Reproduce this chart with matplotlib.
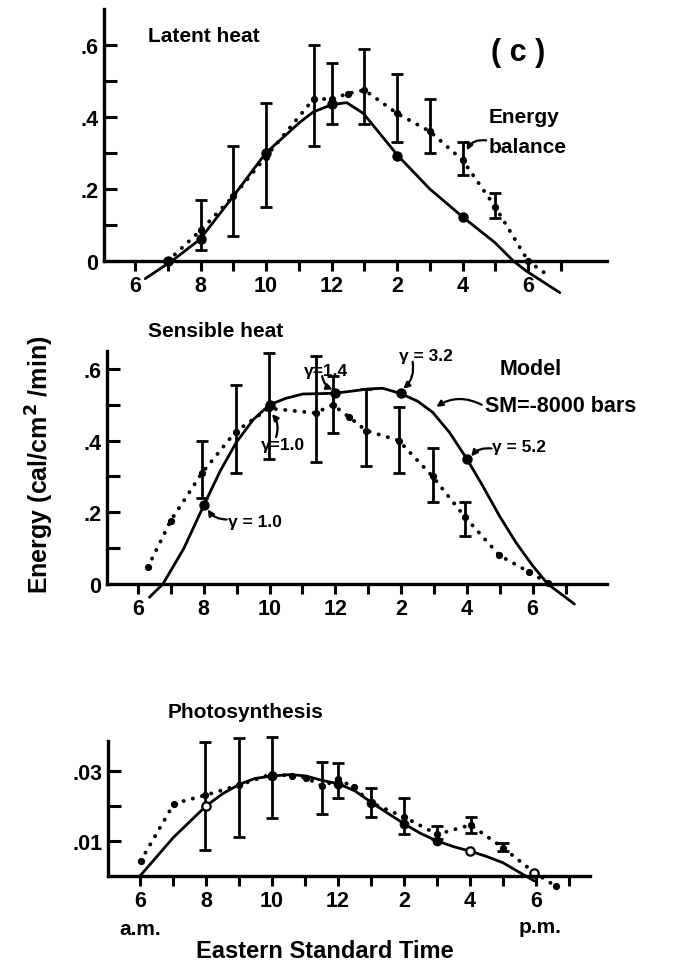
import matplotlib
matplotlib.use('Agg')
import matplotlib.pyplot as plt
import numpy as np

plt.rcParams['font.family'] = ['Liberation Sans', 'DejaVu Sans']
plt.rcParams['font.weight'] = 'bold'

# ---------------- data ----------------
tick_hours = list(range(6, 20))
label_hours = [6, 8, 10, 12, 14, 16, 18]
label_text = ['6', '8', '10', '12', '2', '4', '6']

# Latent heat
lat_model_x = [6.31, 7.12, 7.98, 9.0, 9.99, 11.04, 11.44, 12.0, 12.46, 12.97, 14.02, 15.0, 16.02, 16.99, 17.55, 17.95, 18.97]
lat_model_y = [-0.049, 0.0, 0.06, 0.18, 0.30, 0.386, 0.414, 0.434, 0.44, 0.41, 0.293, 0.20, 0.121, 0.051, 0.0, -0.028, -0.088]
lat_model_mx = [7.0, 8.0, 10.0, 12.0, 14.0, 16.0]
lat_model_my = [0.0, 0.06, 0.30, 0.435, 0.293, 0.121]
lat_obs_x = [7.0, 8.0, 9.0, 10.0, 11.45, 12.0, 12.5, 13.0, 14.0, 15.0, 16.0, 17.0, 18.0]
lat_obs_y = [0.0, 0.085, 0.18, 0.29, 0.45, 0.45, 0.465, 0.475, 0.41, 0.36, 0.28, 0.15, 0.0]
lat_tail_x = [18.0, 18.7]
lat_tail_y = [0.0, -0.046]
lat_err_x = [8.0, 9.0, 10.0, 11.45, 12.0, 13.0, 14.0, 15.0, 16.0, 17.0]
lat_err_lo = [0.03, 0.07, 0.15, 0.32, 0.38, 0.38, 0.33, 0.30, 0.24, 0.12]
lat_err_hi = [0.17, 0.32, 0.44, 0.60, 0.55, 0.59, 0.52, 0.45, 0.33, 0.19]

# Sensible heat
sen_model_x = [6.35, 6.76, 7.4, 8.0, 8.5, 8.99, 9.5, 10.0, 10.5, 11.01, 11.97, 12.5, 12.99, 13.44, 13.97, 14.5, 14.96, 15.47, 16.0, 16.48, 16.99, 17.49, 18.0, 18.46, 19.27]
sen_model_y = [-0.037, 0.0, 0.10, 0.219, 0.315, 0.395, 0.458, 0.50, 0.518, 0.53, 0.532, 0.538, 0.544, 0.546, 0.532, 0.51, 0.479, 0.423, 0.349, 0.274, 0.19, 0.116, 0.051, 0.0, -0.056]
sen_model_mx = [8.0, 10.0, 12.0, 14.0, 16.0]
sen_model_my = [0.219, 0.50, 0.532, 0.532, 0.349]
sen_obs_x = [6.3, 7.0, 7.95, 8.97, 9.98, 11.4, 11.92, 12.43, 12.94, 13.93, 14.96, 15.95, 16.99, 17.9, 18.46]
sen_obs_y = [0.047, 0.177, 0.31, 0.425, 0.49, 0.477, 0.50, 0.465, 0.428, 0.40, 0.30, 0.186, 0.08, 0.033, 0.003]
sen_err_x = [7.95, 8.97, 9.98, 11.4, 11.92, 12.94, 13.93, 14.96, 15.95]
sen_err_lo = [0.24, 0.31, 0.35, 0.34, 0.42, 0.33, 0.31, 0.23, 0.135]
sen_err_hi = [0.40, 0.555, 0.645, 0.635, 0.58, 0.545, 0.495, 0.38, 0.23]

# Photosynthesis
pho_model_x = [6.0, 7.01, 8.0, 8.5, 9.01, 9.49, 10.02, 10.55, 11.03, 11.53, 12.01, 12.52, 13.02, 13.5, 14.03, 14.5, 15.01, 15.5, 16.01, 16.5, 17.0, 17.6, 17.95]
pho_model_y = [0.0, 0.011, 0.020, 0.0235, 0.0262, 0.0279, 0.0286, 0.029, 0.0286, 0.0273, 0.0264, 0.0243, 0.021, 0.018, 0.0148, 0.0122, 0.010, 0.0084, 0.0071, 0.0056, 0.0038, 0.0005, -0.0014]
pho_model_mx = [10.0, 12.0, 13.0, 14.0, 15.0]
pho_model_my = [0.0286, 0.0264, 0.021, 0.0148, 0.010]
pho_open_x = [8.0, 16.0, 17.95]
pho_open_y = [0.020, 0.0071, 0.001]
pho_obs_x = [6.02, 7.03, 7.98, 9.01, 10.0, 10.6, 11.03, 11.53, 12.01, 12.48, 12.99, 14.0, 15.01, 16.02, 17.0, 17.95, 18.6]
pho_obs_y = [0.0043, 0.0207, 0.0231, 0.026, 0.0292, 0.0286, 0.0281, 0.0257, 0.0276, 0.0254, 0.021, 0.0169, 0.0119, 0.0146, 0.0081, 0.001, -0.0029]
pho_err_x = [7.98, 9.01, 10.0, 11.53, 12.01, 12.99, 14.0, 15.01, 16.02, 17.0]
pho_err_lo = [0.0073, 0.0112, 0.0167, 0.0176, 0.0222, 0.0169, 0.0119, 0.0105, 0.0124, 0.0071]
pho_err_hi = [0.0383, 0.0395, 0.0397, 0.0326, 0.0324, 0.0252, 0.0222, 0.0142, 0.0169, 0.0095]

# ---------------- figure ----------------
W, H = 686, 970
fig = plt.figure(figsize=(W / 100, H / 100), dpi=100)


def rect(l, r, t, b):
    return [l / W, 1 - b / H, (r - l) / W, (b - t) / H]


DOT = (0, (0.05, 2.4))


def style(ax, xlim, ylim, yticks, ylabels):
    ax.set_xlim(*xlim)
    ax.set_ylim(*ylim)
    for s in ['top', 'right']:
        ax.spines[s].set_visible(False)
    for s in ['left', 'bottom']:
        ax.spines[s].set_linewidth(2.4)
    ax.set_xticks(tick_hours)
    ax.set_xticklabels([label_text[label_hours.index(h)] if h in label_hours else '' for h in tick_hours])
    ax.set_yticks(yticks)
    ax.set_yticklabels(ylabels)
    ax.tick_params(axis='x', direction='out', length=7, width=2.2, labelsize=15.5, pad=3)
    ax.tick_params(axis='y', direction='in', length=9, width=2.2, labelsize=15.5, pad=4)
    ax.patch.set_alpha(0)


def dotted(ax, x, y):
    ax.plot(x, y, linestyle=DOT, color='black', lw=2.8, clip_on=False,
            dash_capstyle='round', solid_capstyle='round')


def draw(ax, mx, my, mmx, mmy, ox, oy, ex, elo, ehi, msz=6.5):
    ax.plot(mx, my, '-', color='black', lw=2.0, clip_on=False, solid_capstyle='round',
            solid_joinstyle='round')
    ax.plot(mmx, mmy, 'o', color='black', ms=msz, clip_on=False)
    dotted(ax, ox, oy)
    ax.plot(ox, oy, 'o', color='black', ms=4.2, clip_on=False)
    elo = np.array(elo); ehi = np.array(ehi)
    ax.errorbar(ex, (elo + ehi) / 2, yerr=(ehi - elo) / 2, fmt='none', ecolor='black',
                elinewidth=2.0, capsize=4.5, capthick=2.0, clip_on=False)


def arrow(ax, xy, xytext, rad=0.3):
    ax.annotate('', xy=xy, xytext=xytext,
                arrowprops=dict(arrowstyle='-|>', color='black', lw=1.6, mutation_scale=9,
                                shrinkA=0, shrinkB=2, connectionstyle=f'arc3,rad={rad}'),
                annotation_clip=False)


LBL = 15
GAM = 12.5

# Panel 1
ax1 = fig.add_axes(rect(104, 607, 10, 262))
style(ax1, (5.05, 20.41), (0, 0.70), [0.0, 0.1, 0.2, 0.3, 0.4, 0.5, 0.6],
      ['0', '', '.2', '', '.4', '', '.6'])
draw(ax1, lat_model_x, lat_model_y, lat_model_mx, lat_model_my,
     lat_obs_x, lat_obs_y, lat_err_x, lat_err_lo, lat_err_hi)
dotted(ax1, lat_tail_x, lat_tail_y)
ax1.text(6.4, 0.625, 'Latent heat', fontsize=LBL, ha='left', va='center')
ax1.text(17.7, 0.58, '( c )', fontsize=22, ha='center', va='center')
ax1.text(16.8, 0.40, 'Energy', fontsize=LBL, ha='left', va='center')
ax1.text(16.8, 0.318, 'balance', fontsize=LBL, ha='left', va='center')
arrow(ax1, (16.1, 0.30), (16.72, 0.335), rad=0.4)

# Panel 2
ax2 = fig.add_axes(rect(107, 607, 352, 585))
style(ax2, (5.06, 20.26), (0, 0.65), [0.0, 0.1, 0.2, 0.3, 0.4, 0.5, 0.6],
      ['0', '', '.2', '', '.4', '', '.6'])
draw(ax2, sen_model_x, sen_model_y, sen_model_mx, sen_model_my,
     sen_obs_x, sen_obs_y, sen_err_x, sen_err_lo, sen_err_hi)
ax2.text(6.3, 0.707, 'Sensible heat', fontsize=LBL, ha='left', va='center', clip_on=False)
ax2.text(17.95, 0.60, 'Model', fontsize=15.5, ha='center', va='center')
ax2.text(16.55, 0.497, 'SM=-8000 bars', fontsize=15.5, ha='left', va='center')
arrow(ax2, (15.0, 0.49), (16.45, 0.50), rad=0.3)
g = 'γ'
ax2.text(8.75, 0.173, f'{g} = 1.0', fontsize=GAM, ha='left', va='center')
arrow(ax2, (8.08, 0.215), (8.7, 0.18), rad=-0.3)
ax2.text(9.75, 0.39, f'{g}=1.0', fontsize=GAM, ha='left', va='center')
arrow(ax2, (10.02, 0.48), (10.2, 0.41), rad=0.3)
ax2.text(11.05, 0.595, f'{g}=1.4', fontsize=GAM, ha='left', va='center')
arrow(ax2, (12.0, 0.54), (11.6, 0.58), rad=0.3)
ax2.text(13.95, 0.637, f'{g} = 3.2', fontsize=GAM, ha='left', va='center')
arrow(ax2, (14.0, 0.54), (14.35, 0.62), rad=-0.3)
ax2.text(16.75, 0.383, f'{g} = 5.2', fontsize=GAM, ha='left', va='center')
arrow(ax2, (16.08, 0.35), (16.75, 0.378), rad=0.3)

# Panel 3
ax3 = fig.add_axes(rect(108, 590, 742, 877))
style(ax3, (5.03, 19.64), (0, 0.0386), [0.01, 0.02, 0.03], ['.01', '', '.03'])
draw(ax3, pho_model_x, pho_model_y, pho_model_mx, pho_model_my,
     pho_obs_x, pho_obs_y, pho_err_x, pho_err_lo, pho_err_hi, msz=6)
ax3.plot(pho_open_x, pho_open_y, 'o', mfc='white', mec='black', mew=1.6, ms=6, clip_on=False)
ax3.text(6.85, 0.047, 'Photosynthesis', fontsize=LBL, ha='left', va='center', clip_on=False)

# shared texts
fig.text(140 / W, 1 - 930 / H, 'a.m.', fontsize=15, ha='center', va='center')
fig.text(540 / W, 1 - 928 / H, 'p.m.', fontsize=15, ha='center', va='center')
fig.text(325 / W, 1 - 952 / H, 'Eastern Standard Time', fontsize=17, ha='center', va='center')
fig.text(40 / W, 1 - 465 / H, 'Energy (cal/cm$^{\\mathbf{2}}$ /min)', fontsize=18, rotation=90,
         ha='center', va='center')

fig.savefig('out.png', dpi=100)
